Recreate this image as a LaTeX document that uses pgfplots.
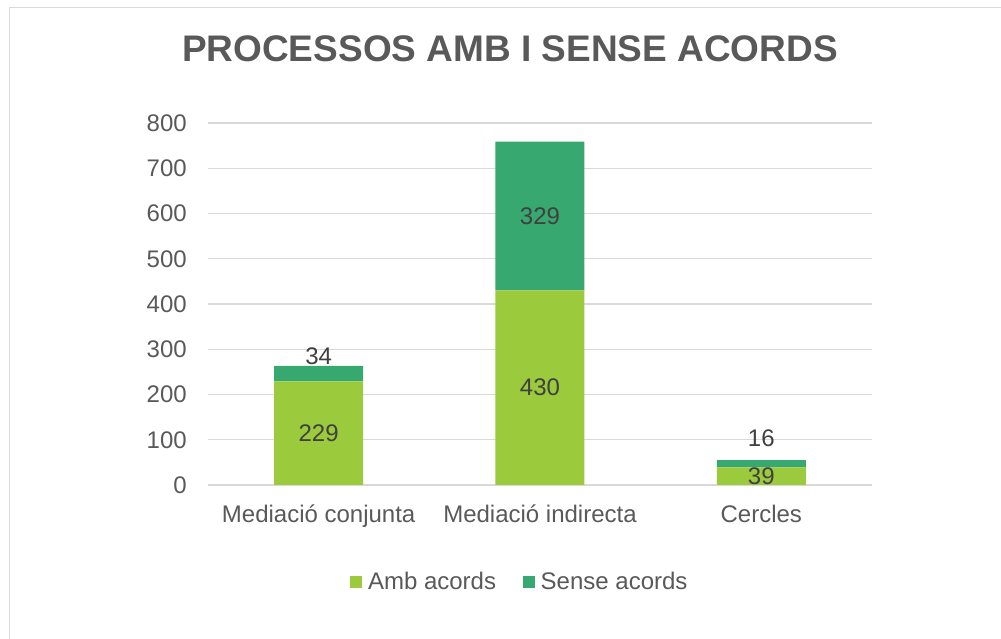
\documentclass[border=0pt]{standalone}
\usepackage{fontspec}
\setmainfont{Liberation Sans}
\usepackage{pgfplots}
\pgfplotsset{compat=1.18}
\definecolor{lgreen}{HTML}{9BCA3C}
\definecolor{dgreen}{HTML}{37A86F}
\definecolor{gridc}{HTML}{D9D9D9}
\definecolor{txt}{HTML}{595959}
\definecolor{lbl}{HTML}{404040}
\pgfplotstableread{
x y lab
0 114.5 229
1 215 430
2 19 39
0 285 34
1 594.5 329
2 103 16
}\labels
\begin{document}
\begin{tikzpicture}
\path[use as bounding box] (0,0) rectangle (750.75pt,479.25pt);
\draw[gridc, line width=1.1pt] (7.125pt,-1pt) -- (7.125pt,473.6pt) -- (752pt,473.6pt);
\node[font=\bfseries\fontsize{27.75}{30}\selectfont, text=txt, inner sep=0pt] at (382.5pt,443pt) {PROCESSOS AMB I SENSE ACORDS};
\begin{axis}[
  at={(156pt,115.5pt)}, anchor=south west,
  scale only axis, width=498pt, height=271.5pt,
  ybar stacked, bar width=66.75pt,
  xmin=-0.5, xmax=2.5, ymin=0, ymax=800,
  xtick={0,1,2}, xticklabels={Mediació conjunta, Mediació indirecta, Cercles},
  ytick={0,100,...,800},
  ymajorgrids, grid style={gridc, line width=1.1pt},
  axis line style={draw=none},
  major tick length=0pt, tick style={draw=none},
  /pgf/number format/assume math mode=true,
  ticklabel style={font=\fontsize{18}{20}\selectfont, text=txt},
  yticklabel style={anchor=east, inner sep=0pt, xshift=-15.75pt},
  xticklabel style={anchor=base, inner sep=0pt, yshift=-28.5pt},
  legend style={at={(0.47,-0.267)}, anchor=center, draw=none,
    legend columns=2, font=\fontsize{18}{20}\selectfont, text=txt,
    /tikz/every even column/.append style={column sep=18pt}},
  legend image code/.code={\fill[#1] (0pt,-4.5pt) rectangle (9pt,4.5pt); \path (11.5pt,0pt);},
]
\addplot[fill=lgreen, draw=none] coordinates {(0,229) (1,430) (2,39)};
\addlegendentry{Amb acords}
\addplot[fill=dgreen, draw=none] coordinates {(0,34) (1,329) (2,16)};
\addlegendentry{Sense acords}
\end{axis}
\begin{axis}[
  at={(156pt,115.5pt)}, anchor=south west,
  scale only axis, width=498pt, height=271.5pt,
  xmin=-0.5, xmax=2.5, ymin=0, ymax=800,
  hide axis, clip=false,
]
\addplot[draw=none, mark=none, nodes near coords, point meta=explicit symbolic,
  nodes near coords style={anchor=center, font=\fontsize{18}{20}\selectfont, text=lbl}]
  table[x=x, y=y, meta=lab] {\labels};
\end{axis}
\end{tikzpicture}
\end{document}
